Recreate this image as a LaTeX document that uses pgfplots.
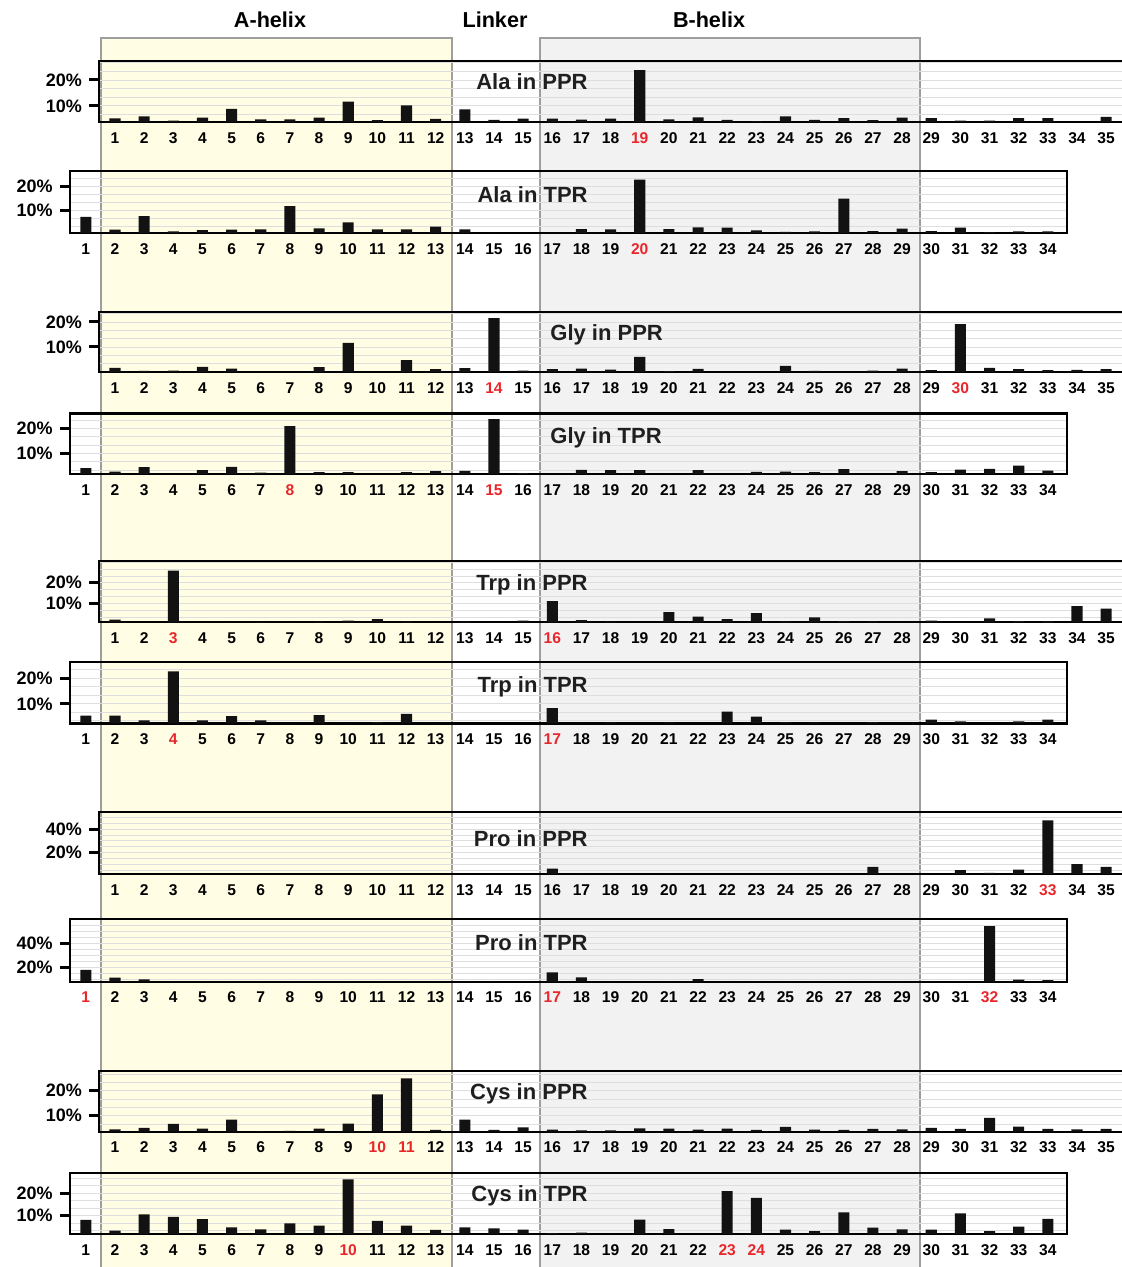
\documentclass[border=0pt]{standalone}
\usepackage{pgfplots}
\pgfplotsset{compat=1.18}
\usepackage{fontspec}
\setmainfont{Liberation Sans}
\definecolor{yel}{HTML}{FFFDE4}
\definecolor{gbox}{HTML}{F2F2F2}
\definecolor{bord}{HTML}{9E9E9E}
\definecolor{tred}{HTML}{E8262B}
\definecolor{barc}{HTML}{121212}
\newcommand\R[1]{\textcolor{tred}{#1}}
\newcommand\tickfont{\bfseries\fontsize{7.8}{8}\selectfont}
\newcommand\yfont{\bfseries\fontsize{9}{10}\selectfont}
\newcommand\titlefont{\bfseries\fontsize{11}{12}\selectfont}
\pgfplotsset{
  panel/.style={
    scale only axis, ybar, bar width=0.38,
    axis line style={line width=1.1pt, black},
    tick align=inside, ytick pos=left, xtick pos=bottom,
    major tick length=5pt, minor tick length=0pt,
    ytick style={line width=1.5pt, black, xshift=-5pt},
    xtick style={draw=none},
    yticklabel style={font=\yfont, xshift=-5pt},
    xticklabel style={font=\tickfont, inner sep=0pt, yshift=-5pt, anchor=north},
    ymajorgrids, yminorgrids,
    major grid style={black!13, line width=0.4pt},
    minor grid style={black!13, line width=0.4pt},
    ytick={10,20}, yticklabels={10\%,20\%},
    minor ytick={3.33,6.67,13.33,16.67,23.33,26.67,30},
    anchor=south west,
  },
  ppr/.style={panel, width=512.6pt, xmin=0.45, xmax=35.62, xtick={1,...,35}},
  tpr/.style={panel, width=498.5pt, xmin=0.45, xmax=34.65, xtick={1,...,34}},
  bars/.style={fill=barc, draw=none},
}
\begin{document}
\begin{tikzpicture}[x=0.5pt,y=0.5pt]
\useasboundingbox (0,0) rectangle (1122,1267);
\fill[yel] (101,1229) rectangle (452,-30);
\fill[gbox] (540,1229) rectangle (920,-30);
\draw[bord, line width=1pt] (101,-30) -- (101,1229) -- (452,1229) -- (452,-30);
\draw[bord, line width=1pt] (540,-30) -- (540,1229) -- (920,1229) -- (920,-30);
\node[font=\bfseries\fontsize{10.8}{12}\selectfont] at (270,1247) {A-helix};
\node[font=\bfseries\fontsize{10.8}{12}\selectfont] at (495,1247) {Linker};
\node[font=\bfseries\fontsize{10.8}{12}\selectfont] at (709,1247) {B-helix};

% Ala PPR
\begin{axis}[ppr, at={(49.5pt,572.5pt)}, height=30.5pt, ymin=3.8, ymax=27.3,
 xticklabels={1,2,3,4,5,6,7,8,9,10,11,12,13,14,15,16,17,18,\R{19},20,21,22,23,24,25,26,27,28,29,30,31,32,33,34,35}]
\addplot[bars] coordinates {(1,5.2)(2,6.0)(3,4.3)(4,5.5)(5,8.8)(6,4.8)(7,4.8)(8,5.5)(9,11.6)(10,4.5)(11,10.2)(12,5.0)(13,8.7)(14,4.6)(15,5.1)(16,5.1)(17,4.7)(18,5.1)(19,23.8)(20,4.8)(21,5.6)(22,4.6)(23,4.0)(24,6.0)(25,4.6)(26,5.3)(27,4.5)(28,5.5)(29,5.3)(30,4.3)(31,4.3)(32,5.3)(33,5.3)(34,3.8)(35,5.8)};
\end{axis}
% Ala TPR
\begin{axis}[tpr, at={(34.9pt,517pt)}, height=31pt, ymin=0.7, ymax=26.2,
 xticklabels={1,2,3,4,5,6,7,8,9,10,11,12,13,14,15,16,17,18,19,\R{20},21,22,23,24,25,26,27,28,29,30,31,32,33,34}]
\addplot[bars] coordinates {(1,7.3)(2,2.1)(3,7.6)(4,1.4)(5,1.9)(6,2.1)(7,2.2)(8,11.7)(9,2.6)(10,5.1)(11,2.2)(12,2.2)(13,3.3)(14,2.2)(15,0.7)(16,0.7)(17,0.7)(18,2.3)(19,2.2)(20,22.6)(21,2.3)(22,3.0)(23,2.9)(24,1.8)(25,1.2)(26,1.4)(27,14.8)(28,1.5)(29,2.5)(30,1.5)(31,2.9)(32,1.1)(33,1.4)(34,1.4)};
\end{axis}
% Gly PPR
\begin{axis}[ppr, at={(49.5pt,447.5pt)}, height=30pt, ymin=0, ymax=24,
 xticklabels={1,2,3,4,5,6,7,8,9,10,11,12,13,\R{14},15,16,17,18,19,20,21,22,23,24,25,26,27,28,29,\R{30},31,32,33,34,35}]
\addplot[bars] coordinates {(1,1.6)(2,0.4)(3,0.5)(4,2.0)(5,1.3)(6,0)(7,0)(8,1.9)(9,11.6)(10,0)(11,4.7)(12,1.1)(13,1.5)(14,21.5)(15,0.5)(16,1.1)(17,1.3)(18,0.9)(19,6.0)(20,0.3)(21,1.2)(22,0)(23,0)(24,2.4)(25,0.4)(26,0)(27,0.5)(28,1.3)(29,0.7)(30,19.1)(31,1.6)(32,1.1)(33,0.7)(34,0.8)(35,1.1)};
\end{axis}
% Gly TPR
\begin{axis}[tpr, at={(34.9pt,396.5pt)}, height=30.25pt, ymin=1.7, ymax=25.9,
 xticklabels={1,2,3,4,5,6,7,\R{8},9,10,11,12,13,14,\R{15},16,17,18,19,20,21,22,23,24,25,26,27,28,29,30,31,32,33,34}]
\addplot[bars] coordinates {(1,4.0)(2,2.6)(3,4.4)(4,1.7)(5,3.2)(6,4.5)(7,2.2)(8,20.8)(9,2.4)(10,2.4)(11,1.7)(12,2.4)(13,2.8)(14,2.9)(15,23.6)(16,2.0)(17,1.7)(18,3.3)(19,3.2)(20,3.2)(21,1.7)(22,3.2)(23,1.7)(24,2.5)(25,2.6)(26,2.4)(27,3.6)(28,1.7)(29,2.8)(30,2.4)(31,3.4)(32,3.7)(33,5.0)(34,3.0)};
\end{axis}
% Trp PPR
\begin{axis}[ppr, at={(49.5pt,322.35pt)}, height=30.65pt, ymin=0.8, ymax=30.6,
 xticklabels={1,2,\R{3},4,5,6,7,8,9,10,11,12,13,14,15,\R{16},17,18,19,20,21,22,23,24,25,26,27,28,29,30,31,32,33,34,35}]
\addplot[bars] coordinates {(1,2.1)(2,0.8)(3,25.9)(4,0.8)(5,0.8)(6,0.9)(7,0.8)(8,1.1)(9,1.6)(10,2.3)(11,1.3)(12,0.8)(13,1.3)(14,0.8)(15,1.6)(16,11.1)(17,1.8)(18,1.1)(19,0.8)(20,5.8)(21,3.6)(22,2.3)(23,5.3)(24,1.3)(25,3.2)(26,1.4)(27,1.3)(28,0.8)(29,1.6)(30,0.8)(31,2.7)(32,1.4)(33,1.4)(34,8.7)(35,7.4)};
\end{axis}
% Trp TPR
\begin{axis}[tpr, at={(34.9pt,271.75pt)}, height=30.6pt, ymin=2.3, ymax=26.3,
 xticklabels={1,2,3,\R{4},5,6,7,8,9,10,11,12,13,14,15,16,\R{17},18,19,20,21,22,23,24,25,26,27,28,29,30,31,32,33,34}]
\addplot[bars] coordinates {(1,5.4)(2,5.4)(3,3.5)(4,22.7)(5,3.5)(6,5.2)(7,3.5)(8,2.3)(9,5.6)(10,2.3)(11,2.8)(12,6.1)(13,2.3)(14,2.3)(15,2.3)(16,2.3)(17,8.3)(18,2.3)(19,2.7)(20,2.3)(21,2.7)(22,2.3)(23,7.0)(24,5.0)(25,2.8)(26,2.7)(27,2.3)(28,2.8)(29,2.3)(30,3.8)(31,3.1)(32,2.3)(33,3.1)(34,3.8)};
\end{axis}
% Pro PPR
\begin{axis}[ppr, at={(49.5pt,196.5pt)}, height=30.85pt, ymin=1.7, ymax=54.4,
 ytick={20,40}, yticklabels={20\%,40\%}, minor ytick={5,10,15,25,30,35,45,50},
 xticklabels={1,2,3,4,5,6,7,8,9,10,11,12,13,14,15,16,17,18,19,20,21,22,23,24,25,26,27,28,29,30,31,32,\R{33},34,35}]
\addplot[bars] coordinates {(1,1.7)(2,1.7)(3,1.7)(4,1.7)(5,1.7)(6,1.7)(7,1.7)(8,1.7)(9,1.7)(10,1.7)(11,1.7)(12,1.7)(13,1.7)(14,1.7)(15,1.7)(16,6.2)(17,1.7)(18,1.7)(19,1.7)(20,1.7)(21,1.7)(22,1.7)(23,1.7)(24,1.7)(25,1.7)(26,1.7)(27,7.7)(28,1.7)(29,1.7)(30,5.1)(31,2.6)(32,5.4)(33,47.6)(34,10.2)(35,7.7)};
\end{axis}
% Pro TPR
\begin{axis}[tpr, at={(34.9pt,142.65pt)}, height=31.35pt, ymin=8, ymax=60.25,
 ytick={20,40}, yticklabels={20\%,40\%}, minor ytick={10,15,25,30,35,45,50,55,60},
 xticklabels={\R{1},2,3,4,5,6,7,8,9,10,11,12,13,14,15,16,\R{17},18,19,20,21,22,23,24,25,26,27,28,29,30,31,\R{32},33,34}]
\addplot[bars] coordinates {(1,17.8)(2,11.3)(3,9.9)(4,8)(5,8)(6,8)(7,8)(8,8)(9,8)(10,8)(11,8)(12,8)(13,8)(14,8)(15,8)(16,8)(17,15.8)(18,11.6)(19,8)(20,8)(21,8)(22,10.2)(23,8)(24,8)(25,8)(26,8)(27,8)(28,8)(29,8)(30,8)(31,8)(32,54.4)(33,9.7)(34,9.4)};
\end{axis}
% Cys PPR
\begin{axis}[ppr, at={(49.5pt,67.65pt)}, height=30.35pt, ymin=3.6, ymax=27.9,
 xticklabels={1,2,3,4,5,6,7,8,9,\R{10},\R{11},12,13,14,15,16,17,18,19,20,21,22,23,24,25,26,27,28,29,30,31,32,33,34,35}]
\addplot[bars] coordinates {(1,4.5)(2,5.1)(3,6.7)(4,4.8)(5,8.4)(6,3.7)(7,3.9)(8,4.8)(9,6.8)(10,18.5)(11,24.9)(12,4.3)(13,8.4)(14,4.3)(15,5.3)(16,4.4)(17,4.1)(18,4.1)(19,4.9)(20,4.8)(21,4.4)(22,4.8)(23,4.3)(24,5.5)(25,4.4)(26,4.3)(27,4.7)(28,4.5)(29,5.1)(30,4.7)(31,9.1)(32,5.6)(33,4.7)(34,4.5)(35,4.7)};
\end{axis}
% Cys TPR
\begin{axis}[tpr, at={(34.9pt,16.5pt)}, height=30.65pt, ymin=1.8, ymax=29.2,
 xticklabels={1,2,3,4,5,6,7,8,9,\R{10},11,12,13,14,15,16,17,18,19,20,21,22,\R{23},\R{24},25,26,27,28,29,30,31,32,33,34}]
\addplot[bars] coordinates {(1,8.1)(2,3.3)(3,10.6)(4,9.5)(5,8.4)(6,4.8)(7,3.9)(8,6.6)(9,5.5)(10,26.2)(11,7.7)(12,5.5)(13,3.6)(14,4.8)(15,4.3)(16,3.7)(17,2.2)(18,2.4)(19,1.8)(20,8.2)(21,4.0)(22,1.8)(23,21.0)(24,17.9)(25,3.7)(26,3.1)(27,11.5)(28,4.6)(29,3.9)(30,3.7)(31,11.0)(32,3.1)(33,5.1)(34,8.6)};
\end{axis}

\begin{scope}[every node/.style={font=\titlefont, text=black!88, inner sep=0pt}]
\node[anchor=base east] at (588,1177) {Ala in PPR};
\node[anchor=base east] at (588,1064) {Ala in TPR};
\node[anchor=base west] at (550,926) {Gly in PPR};
\node[anchor=base west] at (550,823) {Gly in TPR};
\node[anchor=base east] at (588,676) {Trp in PPR};
\node[anchor=base east] at (588,574) {Trp in TPR};
\node[anchor=base east] at (588,420) {Pro in PPR};
\node[anchor=base east] at (588,316) {Pro in TPR};
\node[anchor=base east] at (588,167) {Cys in PPR};
\node[anchor=base east] at (588,65) {Cys in TPR};
\end{scope}
\end{tikzpicture}
\end{document}
